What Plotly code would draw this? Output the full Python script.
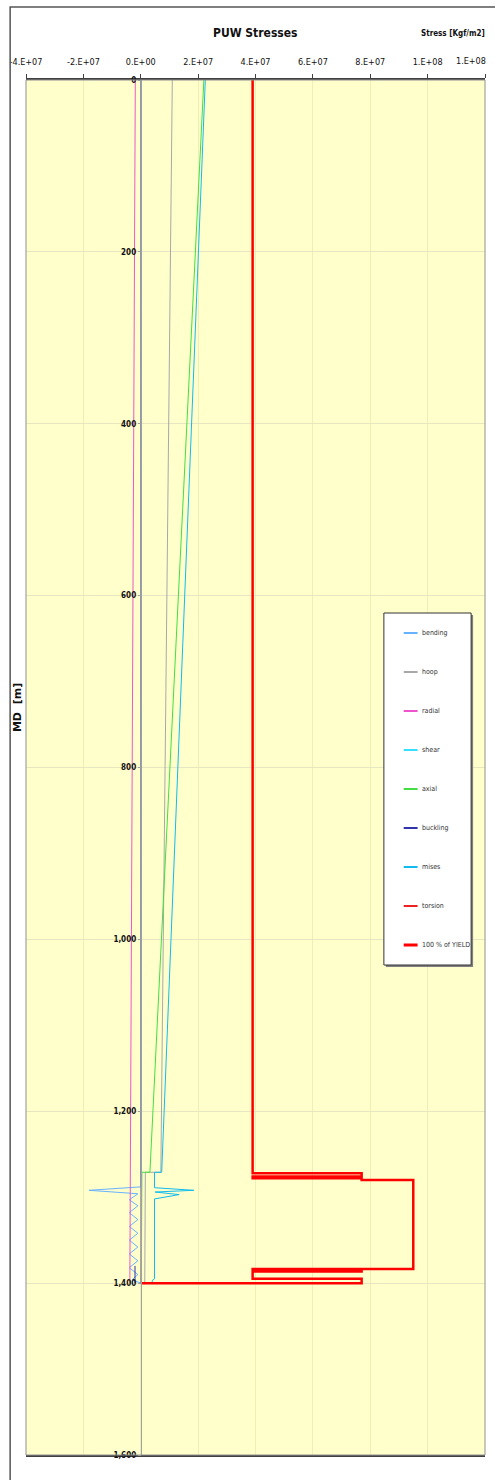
import plotly.graph_objects as go

# ---------------- data ----------------
md_radial = [0, 1400]
radial = [-1.9e6, -3.8e6]

md_hoop = [0, 1271, 1271, 1400]
hoop = [1.1e7, 7.0e6, 1.6e6, 1.4e6]

md_axial = [0, 1271, 1271, 1400]
axial = [2.2e7, 3.2e6, 0.4e6, 0.2e6]

md_torsion = [0, 1400]
torsion = [1.5e5, 1.5e5]

md_shear = [0, 1400]
shear = [1.0e5, 1.0e5]

md_buckling = [1380, 1400]
buckling = [-2.0e6, -2.0e6]

md_mises = [0, 1271, 1271, 1289, 1292, 1294, 1297, 1302, 1395, 1397, 1400]
mises = [2.25e7, 7.3e6, 4.8e6, 4.8e6, 1.85e7, 5.0e6, 1.34e7, 4.8e6, 4.8e6, 4.0e6, 4.0e6]

md_bending = [0, 1288, 1292, 1296, 1303, 1310, 1318, 1326, 1334, 1342, 1350, 1358,
              1366, 1374, 1382, 1390, 1396, 1400]
bending = [0.0, 0.0, -1.8e7, -1.0e6, -4.0e6, -1.0e6, -4.0e6, -1.0e6, -4.0e6, -1.0e6,
           -4.0e6, -1.0e6, -4.0e6, -1.0e6, -4.0e6, -1.0e6, -3.0e6, 0.0]

md_yield = [0, 1272, 1272, 1276, 1276, 1278, 1278, 1280, 1280, 1383.5, 1383.5,
            1385.5, 1385.5, 1386.5, 1386.5, 1395, 1395, 1400, 1400]
yield100 = [3.9e7, 3.9e7, 7.7e7, 7.7e7, 3.9e7, 3.9e7, 7.7e7, 7.7e7, 9.5e7, 9.5e7, 3.9e7,
            3.9e7, 7.7e7, 7.7e7, 3.9e7, 3.9e7, 7.7e7, 7.7e7, 0.0]

x_tickvals = [-4e7, -2e7, 0, 2e7, 4e7, 6e7, 8e7, 1e8, 1.2e8]
x_ticktext = ["-4.E+07", "-2.E+07", "0.E+00", "2.E+07", "4.E+07", "6.E+07", "8.E+07", "1.E+08", "1.E+08"]
y_tickvals = [0, 200, 400, 600, 800, 1000, 1200, 1400, 1600]
y_ticktext = ["0", "200", "400", "600", "800", "1,000", "1,200", "1,400", "1,600"]

series = [
    ("bending", md_bending, bending, "#66B2FF", 1),
    ("hoop", md_hoop, hoop, "#A8A8A8", 1),
    ("radial", md_radial, radial, "#EE55CC", 1),
    ("shear", md_shear, shear, "#33E0FF", 1),
    ("axial", md_axial, axial, "#44DD44", 1),
    ("buckling", md_buckling, buckling, "#3333AA", 1),
    ("mises", md_mises, mises, "#11BBEE", 1),
    ("torsion", md_torsion, torsion, "#EE2222", 1),
    ("100 % of YIELD", md_yield, yield100, "#FF0000", 2.5),
]

# ---------------- layout geometry ----------------
W, H = 495, 1480
L, R, T, B = 22, 10, 80, 25
PW, PH = W - L - R, H - T - B

def px(x):
    return (x - L) / PW

def py(y):
    return (H - B - y) / PH

NARROW = "Liberation Sans Narrow, Arial Narrow, DejaVu Sans Condensed, Liberation Sans, Arial"

fig = go.Figure()
for name, md, val, color, width in series:
    fig.add_trace(go.Scatter(x=val, y=md, mode="lines", name=name,
                             line=dict(color=color, width=width),
                             showlegend=False))

shapes = []
annotations = []

# outer frame
shapes.append(dict(type="rect", xref="paper", yref="paper",
                   x0=px(6), x1=px(497), y0=py(1490), y1=py(7),
                   line=dict(color="#555555", width=1.5), layer="above"))
# plot frame
shapes.append(dict(type="rect", xref="paper", yref="paper",
                   x0=0, x1=1, y0=0, y1=1,
                   line=dict(color="#909090", width=1), layer="above"))

# custom legend
lx0, lx1, ly0, ly1 = 383, 471, 613, 965
shapes.append(dict(type="rect", xref="paper", yref="paper",
                   x0=px(lx0 + 2), x1=px(lx1 + 2), y0=py(ly1 + 2), y1=py(ly0 + 2),
                   line=dict(width=0), fillcolor="#808080", layer="above"))
shapes.append(dict(type="rect", xref="paper", yref="paper",
                   x0=px(lx0), x1=px(lx1), y0=py(ly1), y1=py(ly0),
                   line=dict(color="#333333", width=1), fillcolor="white", layer="above"))
for i, (name, md, val, color, width) in enumerate(series):
    yy = 633 + 39 * i
    shapes.append(dict(type="line", xref="paper", yref="paper",
                       x0=px(403), x1=px(417), y0=py(yy), y1=py(yy),
                       line=dict(color=color, width=max(2, width + 0.5)), layer="above"))
    annotations.append(dict(x=px(419), y=py(yy), xref="paper", yref="paper",
                            text=name, showarrow=False, xanchor="left", yanchor="middle",
                            font=dict(family=NARROW, size=7, color="#333333")))

annotations.append(dict(x=0.5, y=py(33), xref="paper", yref="paper",
                        text="<b>PUW Stresses</b>", showarrow=False, yanchor="middle",
                        font=dict(family=NARROW, size=12, color="#111111")))
annotations.append(dict(x=px(487), y=py(33), xref="paper", yref="paper",
                        text="<b>Stress [Kgf/m2]</b>", showarrow=False,
                        xanchor="right", yanchor="middle",
                        font=dict(family=NARROW, size=8, color="#111111")))
annotations.append(dict(x=px(13), y=py(708), xref="paper", yref="paper",
                        text="<b>MD  [m]</b>", showarrow=False, textangle=-90,
                        xanchor="center", yanchor="middle",
                        font=dict(family="DejaVu Sans", size=11, color="#111111")))
# last x tick label pulled inside the page (as in the reference)
annotations.append(dict(x=px(488), y=py(61), xref="paper", yref="paper",
                        text=x_ticktext[-1], showarrow=False, xanchor="right", yanchor="middle",
                        font=dict(family=NARROW, size=9, color="#111111")))

shown_ticktext = x_ticktext[:-1] + [""]

fig.update_layout(
    width=W, height=H,
    margin=dict(l=L, r=R, t=T, b=B, pad=0),
    paper_bgcolor="white",
    plot_bgcolor="#FFFFCC",
    showlegend=False,
    shapes=shapes,
    annotations=annotations,
    xaxis=dict(side="top", range=[-4e7, 1.2e8], tickvals=x_tickvals, ticktext=shown_ticktext,
               showgrid=True, gridcolor="#EEEEB6", gridwidth=1,
               showline=True, linecolor="#404040", linewidth=1.5, mirror=True,
               ticks="outside", ticklen=4, tickcolor="#404040",
               ticklabelstandoff=6,
               zeroline=False,
               tickfont=dict(family=NARROW, size=9, color="#111111")),
    yaxis=dict(range=[1600, 0], tickvals=y_tickvals,
               ticktext=["<b>" + t + "</b>" for t in y_ticktext],
               anchor="free", position=0.25,
               showgrid=True, gridcolor="#E6E6C0", gridwidth=1,
               showline=True, linecolor="#A0A0A0", linewidth=1,
               ticks="outside", ticklen=3, tickcolor="#A0A0A0",
               zeroline=False,
               tickfont=dict(family=NARROW, size=8, color="#111111")),
)

fig.write_html("out.html")
